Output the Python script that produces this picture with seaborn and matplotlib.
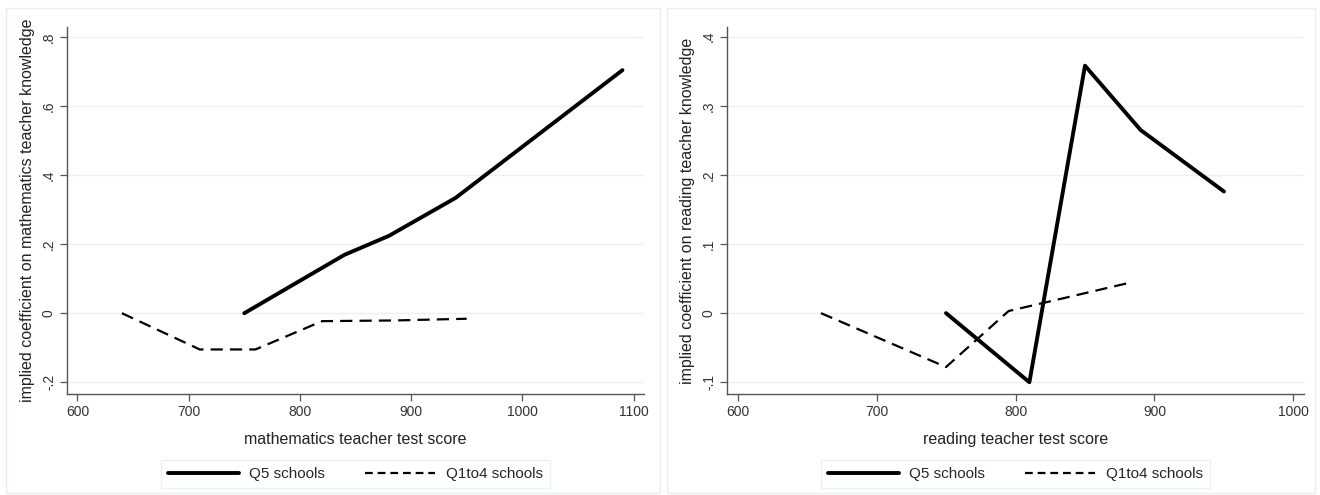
import numpy as np
import pandas as pd
import seaborn as sns
import matplotlib.pyplot as plt
from matplotlib.patches import Rectangle
from matplotlib.lines import Line2D
from matplotlib.ticker import FuncFormatter

# mathematics panel
math_q5_x = [750, 840, 880, 940, 1090]
math_q5_y = [0.0, 0.169, 0.224, 0.334, 0.704]
math_q14_x = [640, 710, 760, 820, 885, 950]
math_q14_y = [0.0, -0.105, -0.105, -0.023, -0.021, -0.016]

# reading panel
read_q5_x = [750, 810, 850, 890, 950]
read_q5_y = [0.0, -0.1, 0.358, 0.265, 0.176]
read_q14_x = [660, 750, 795, 880]
read_q14_y = [0.0, -0.078, 0.003, 0.043]

math_xticks = [600, 700, 800, 900, 1000, 1100]
math_yticks = [-0.2, 0, 0.2, 0.4, 0.6, 0.8]
read_xticks = [600, 700, 800, 900, 1000]
read_yticks = [-0.1, 0, 0.1, 0.2, 0.3, 0.4]

sns.set_theme(style="white")
plt.rcParams['font.family'] = ['Liberation Sans', 'DejaVu Sans']

GRID = "#eaf2f2"
SPINE = "#555555"


def stata_fmt(v, pos):
    if abs(v) < 1e-9:
        return "0"
    s = f"{v:.1f}"
    return s.replace("0.", ".")


def panel(fig, rect, q5x, q5y, q14x, q14y, xticks, yticks, xlim, ylim, xlabel, ylabel):
    ax = fig.add_axes(rect)
    d5 = pd.DataFrame({"score": q5x, "coef": q5y})
    d14 = pd.DataFrame({"score": q14x, "coef": q14y})
    sns.lineplot(data=d5, x="score", y="coef", ax=ax, color="black",
                 linewidth=2.8, estimator=None, sort=False, legend=False)
    sns.lineplot(data=d14, x="score", y="coef", ax=ax, color="black",
                 linewidth=1.6, estimator=None, sort=False, legend=False)
    ax.lines[-1].set_dashes([5.5, 3.2])
    ax.set_xlim(*xlim)
    ax.set_ylim(*ylim)
    ax.set_xticks(xticks)
    ax.set_yticks(yticks)
    ax.yaxis.set_major_formatter(FuncFormatter(stata_fmt))
    for t in yticks:
        ax.axhline(t, color=GRID, linewidth=1.0, zorder=0)
    for side in ["top", "right"]:
        ax.spines[side].set_visible(False)
    for side in ["left", "bottom"]:
        ax.spines[side].set_color(SPINE)
        ax.spines[side].set_linewidth(1.0)
    ax.tick_params(axis="both", which="major", direction="out", length=5,
                   width=0.9, color=SPINE, labelsize=10, labelcolor="#333333",
                   left=True, bottom=True, pad=3)
    for lab in ax.get_yticklabels():
        lab.set_rotation(90)
        lab.set_va("center")
    ax.set_xlabel(xlabel, fontsize=11.5, color="#222222", labelpad=9)
    ax.set_ylabel(ylabel, fontsize=11.5, color="#222222", labelpad=5)
    handles = [Line2D([], [], color="black", linewidth=2.8),
               Line2D([], [], color="black", linewidth=1.6, dashes=[3.5, 2.2])]
    leg = ax.legend(handles, ["Q5 schools", "Q1to4 schools"], loc="upper center",
                    bbox_to_anchor=(0.5, -0.16), ncol=2,
                    frameon=True, fontsize=11, handlelength=4.6,
                    columnspacing=2.6, handletextpad=0.7, borderpad=0.45,
                    fancybox=False)
    leg.get_frame().set_edgecolor("#e6eeee")
    leg.get_frame().set_linewidth(1.0)
    return ax


fig = plt.figure(figsize=(13.2, 4.95), dpi=100)
fig.patch.set_facecolor("white")

# outer panel frames
fig.add_artist(Rectangle((6 / 1320, 2 / 495), 654 / 1320, 485 / 495,
                         transform=fig.transFigure, fill=False,
                         edgecolor="#e6eeee", linewidth=1.0))
fig.add_artist(Rectangle((667 / 1320, 2 / 495), 648 / 1320, 485 / 495,
                         transform=fig.transFigure, fill=False,
                         edgecolor="#e6eeee", linewidth=1.0))

panel(fig, [67 / 1320, 101 / 495, 577 / 1320, 367 / 495],
      math_q5_x, math_q5_y, math_q14_x, math_q14_y,
      math_xticks, math_yticks, (590.6, 1109.4), (-0.234, 0.829),
      "mathematics teacher test score",
      "implied coefficient on mathematics teacher knowledge")

panel(fig, [727 / 1320, 101 / 495, 577 / 1320, 367 / 495],
      read_q5_x, read_q5_y, read_q14_x, read_q14_y,
      read_xticks, read_yticks, (592.4, 1007.6), (-0.117, 0.414),
      "reading teacher test score",
      "implied coefficient on reading teacher knowledge")

fig.savefig("out.png", dpi=100)
